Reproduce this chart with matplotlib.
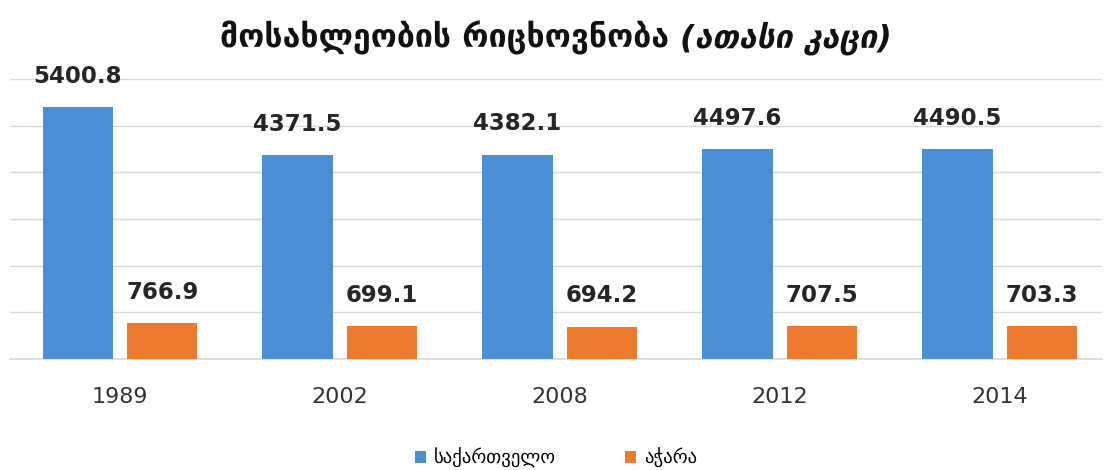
import numpy as np
import matplotlib
matplotlib.use("Agg")
import matplotlib.pyplot as plt

# population (thousand people)
years = ["1989", "2002", "2008", "2012", "2014"]
georgia = [5400.8, 4371.5, 4382.1, 4497.6, 4490.5]
adjara = [766.9, 699.1, 694.2, 707.5, 703.3]
series_names = ["საქართველო", "აჭარა"]

plt.rcParams['font.family'] = ['DejaVu Sans']

fig = plt.figure(figsize=(11.05, 4.7), dpi=100)
ax = fig.add_axes([10/1105, 1 - 359/470, 1092/1105, (359 - 79)/470])

x = np.arange(len(years))
w = 0.32
gap = 0.064
c_blue = '#4b90d6'
c_orange = '#ee7a2e'

b1 = ax.bar(x - (w + gap)/2, georgia, w, color=c_blue, zorder=3, label=series_names[0])
b2 = ax.bar(x + (w + gap)/2, adjara, w, color=c_orange, zorder=3, label=series_names[1])

for bars, vals in ((b1, georgia), (b2, adjara)):
  for r, v in zip(bars, vals):
    ax.annotate("%.1f" % v, (r.get_x() + r.get_width()/2, v),
                xytext=(0, 14), textcoords='offset points',
                ha='center', va='bottom', fontsize=16.5, fontweight='bold',
                color='#262626')

ax.set_ylim(0, 6000)
ax.set_xlim(-0.5, 4.465)
ax.set_yticks(np.arange(0, 6001, 1000))
ax.yaxis.grid(True, color='#d9d9d9', linewidth=1, zorder=0)
ax.axhline(0, color='#d9d9d9', linewidth=1.2, zorder=2, clip_on=False)
ax.tick_params(axis='y', left=False, labelleft=False)
ax.tick_params(axis='x', bottom=False, pad=17)
ax.set_xticks(x)
ax.set_xticklabels(years, fontsize=16, color='#333333')
for s in ax.spines.values():
  s.set_visible(False)

leg = fig.legend(handles=[b1, b2], loc='center', bbox_to_anchor=(556/1105, 1 - 458/470),
                 ncol=2, frameon=False, fontsize=13.5, handlelength=0.6, handleheight=0.6,
                 columnspacing=3.7, handletextpad=0.4)

# title: bold part + italic part, placed side by side
fig.canvas.draw()
r = fig.canvas.get_renderer()
t1 = fig.text(0, 1 - 38/470, "მოსახლეობის რიცხოვნობა ", fontsize=23,
              fontweight='bold', va='center', ha='left', color='#111111')
t2 = fig.text(0, 1 - 38/470, "(ათასი კაცი)", fontsize=23,
              fontweight='bold', style='italic', va='center', ha='left', color='#111111')
w1 = t1.get_window_extent(r).width
w2 = t2.get_window_extent(r).width
x0 = 556 - (w1 + w2)/2
t1.set_x(x0/1105)
t2.set_x((x0 + w1)/1105)

fig.savefig("out.png", dpi=100)
